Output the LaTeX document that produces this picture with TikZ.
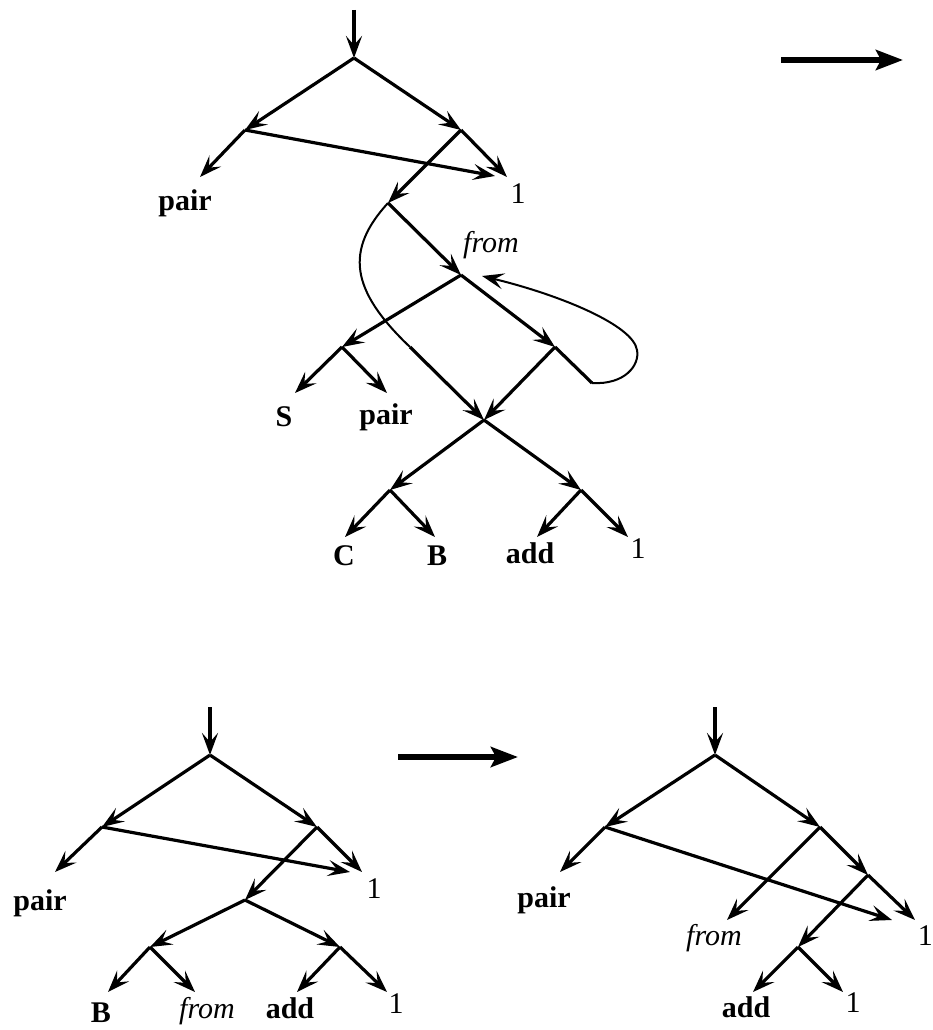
\documentclass[tikz,border=0pt]{standalone}
\usepackage{fontspec}
\setmainfont{Liberation Serif}
\usetikzlibrary{arrows.meta}
\begin{document}
\begin{tikzpicture}[x=1pt,y=-1pt,
  edge/.style={line width=3.2pt,-{Stealth[length=22pt,width=16pt,inset=9pt]}},
  plainedge/.style={line width=3.2pt},
  thinedge/.style={line width=2pt},
  thinarrow/.style={line width=2pt,-{Stealth[length=22pt,width=16pt,inset=9pt]}},
  bigarrow/.style={line width=6pt,-{Stealth[length=27pt,width=20pt,inset=5pt]}},
  lbl/.style={anchor=base,inner sep=0pt,font=\fontsize{30}{30}\selectfont},
  bflbl/.style={anchor=base,inner sep=0pt,font=\fontsize{30}{30}\selectfont\bfseries},
  itlbl/.style={anchor=base,inner sep=0pt,font=\fontsize{30}{30}\selectfont\itshape}
]
\useasboundingbox (0,0) rectangle (933,1030);

% ================= top diagram =================
\coordinate (tIn) at (354,10);
\coordinate (tR) at (354,58);
\coordinate (tL1) at (245,130);
\coordinate (tR1) at (461,130);
\coordinate (tPairTip) at (200,177);
\coordinate (tOneTipA) at (495,176);
\coordinate (tOneTipB) at (507,177);
\coordinate (tN2) at (388,203);
\coordinate (tN3) at (461,275);
\coordinate (tN5) at (342,347);
\coordinate (tN6) at (555,347);
\coordinate (tN4) at (484,420);
\coordinate (tN7) at (390,490);
\coordinate (tN8) at (581,490);
\coordinate (tSTip) at (295,393);
\coordinate (tPair2Tip) at (387,393);
\coordinate (tCTip) at (345,537);
\coordinate (tBTip) at (435,537);
\coordinate (tAddTip) at (537,537);
\coordinate (tOne2Tip) at (628,537);
\coordinate (tLoopStart) at (592,383);
\coordinate (tLoopEnd) at (482,276);
\coordinate (tCurveMid) at (410,347);

\node[bflbl] (tPair) at (185,210) {pair};
\node[lbl] (tOne) at (518,203) {1};
\node[itlbl] (tFrom) at (491,252) {from};
\node[bflbl] (tS) at (284,426) {S};
\node[bflbl] (tPair2) at (386,424) {pair};
\node[bflbl] (tC) at (344,565) {C};
\node[bflbl] (tB) at (437,565) {B};
\node[bflbl] (tAdd) at (530,563) {add};
\node[lbl] (tOne2) at (638,558) {1};

\draw[edge] (tIn) -- (tR);
\draw[edge] (tR) -- (tL1);
\draw[edge] (tR) -- (tR1);
\draw[edge] (tL1) -- (tPairTip);
\draw[edge] (tL1) -- (tOneTipA);
\draw[edge] (tR1) -- (tOneTipB);
\draw[edge] (tR1) -- (tN2);
\draw[edge] (tN2) -- (tN3);
\draw[edge] (tN3) -- (tN5);
\draw[edge] (tN3) -- (tN6);
\draw[edge] (tN5) -- (tSTip);
\draw[edge] (tN5) -- (tPair2Tip);
\draw[edge] (tN6) -- (tN4);
\draw[plainedge] (tN6) -- (tLoopStart);
\draw[thinarrow] (tLoopStart) .. controls (625,385) and (640,365) .. (637,350)
   .. controls (633,325) and (560,295) .. (tLoopEnd);
\draw[thinedge] (tN2) .. controls (345,250) and (350,290) .. (tCurveMid);
\draw[edge] (tCurveMid) -- (tN4);
\draw[edge] (tN4) -- (tN7);
\draw[edge] (tN4) -- (tN8);
\draw[edge] (tN7) -- (tCTip);
\draw[edge] (tN7) -- (tBTip);
\draw[edge] (tN8) -- (tAddTip);
\draw[edge] (tN8) -- (tOne2Tip);

% big arrow top right
\coordinate (arrA1) at (781,60);
\coordinate (arrA2) at (903,60);
\draw[bigarrow] (arrA1) -- (arrA2);

% ================= bottom-left diagram =================
\coordinate (aIn) at (210,707);
\coordinate (aR) at (210,755);
\coordinate (aL) at (102,827);
\coordinate (aRR) at (317,827);
\coordinate (aPairTip) at (55,872);
\coordinate (aOneTipA) at (350,872);
\coordinate (aOneTipB) at (362,872);
\coordinate (aM) at (245,900);
\coordinate (aM1) at (150,947);
\coordinate (aM2) at (340,947);
\coordinate (aBTip) at (108,992);
\coordinate (aFromTip) at (195,992);
\coordinate (aAddTip) at (297,992);
\coordinate (aOne2Tip) at (387,992);

\node[bflbl] (aPair) at (40,910) {pair};
\node[lbl] (aOne) at (374,898) {1};
\node[bflbl] (aB) at (101,1022) {B};
\node[itlbl] (aFrom) at (207,1018) {from};
\node[bflbl] (aAdd) at (290,1018) {add};
\node[lbl] (aOne2) at (396,1013) {1};

\draw[edge] (aIn) -- (aR);
\draw[edge] (aR) -- (aL);
\draw[edge] (aR) -- (aRR);
\draw[edge] (aL) -- (aPairTip);
\draw[edge] (aL) -- (aOneTipA);
\draw[edge] (aRR) -- (aOneTipB);
\draw[edge] (aRR) -- (aM);
\draw[edge] (aM) -- (aM1);
\draw[edge] (aM) -- (aM2);
\draw[edge] (aM1) -- (aBTip);
\draw[edge] (aM1) -- (aFromTip);
\draw[edge] (aM2) -- (aAddTip);
\draw[edge] (aM2) -- (aOne2Tip);

% middle big arrow
\coordinate (arrB1) at (398,757);
\coordinate (arrB2) at (518,757);
\draw[bigarrow] (arrB1) -- (arrB2);

% ================= bottom-right diagram =================
\coordinate (bIn) at (715,707);
\coordinate (bR) at (715,755);
\coordinate (bL) at (605,827);
\coordinate (bRR) at (820,827);
\coordinate (bPairTip) at (560,872);
\coordinate (bOneTipA) at (892,920);
\coordinate (bR2) at (868,875);
\coordinate (bFromTip) at (727,920);
\coordinate (bOneTipB) at (915,920);
\coordinate (bR3) at (798,947);
\coordinate (bAddTip) at (753,992);
\coordinate (bOne2Tip) at (843,992);

\node[bflbl] (bPair) at (544,907) {pair};
\node[itlbl] (bFrom) at (714,945) {from};
\node[lbl,anchor=base east] (bOne) at (933,945) {1};
\node[bflbl] (bAdd) at (746,1017) {add};
\node[lbl] (bOne2) at (853,1012) {1};

\draw[edge] (bIn) -- (bR);
\draw[edge] (bR) -- (bL);
\draw[edge] (bR) -- (bRR);
\draw[edge] (bL) -- (bPairTip);
\draw[edge] (bL) -- (bOneTipA);
\draw[edge] (bRR) -- (bR2);
\draw[edge] (bRR) -- (bFromTip);
\draw[edge] (bR2) -- (bOneTipB);
\draw[edge] (bR2) -- (bR3);
\draw[edge] (bR3) -- (bAddTip);
\draw[edge] (bR3) -- (bOne2Tip);

\end{tikzpicture}
\end{document}
